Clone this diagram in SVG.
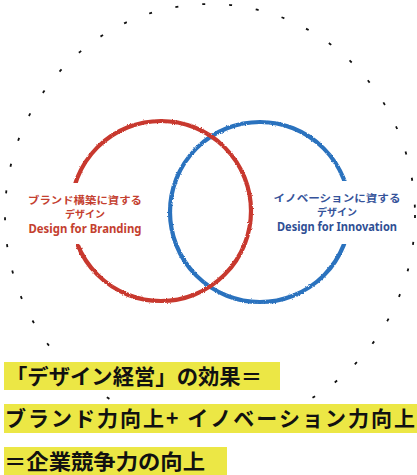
<svg xmlns="http://www.w3.org/2000/svg" width="417" height="475" viewBox="0 0 417 475">
  <defs>
    <!-- rough, chalk-like edge for the two rings -->
    <filter id="rough" x="-10%" y="-10%" width="120%" height="120%">
      <feTurbulence type="fractalNoise" baseFrequency="0.9" numOctaves="2" seed="3" result="n"/>
      <feDisplacementMap in="SourceGraphic" in2="n" scale="2.4" xChannelSelector="R" yChannelSelector="G"/>
    </filter>
  </defs>
  <style>
    .ring { fill: none; stroke-width: 4.2; filter: url(#rough); }
    .lbl { font-family: "Noto Sans CJK JP", "Noto Sans", sans-serif; font-weight: 700; text-anchor: middle; font-size: 10px; }
    .en { font-family: "Noto Sans", "Liberation Sans", sans-serif; font-weight: 700; text-anchor: middle; font-size: 11.5px; }
    .band { fill: #ece745; }
    .big { font-family: "Noto Sans CJK JP", sans-serif; font-weight: 700; font-size: 21px; fill: #111; }
  </style>

  <rect width="417" height="475" fill="#fff"/>

  <!-- outer dashed boundary -->
  <g id="outer">
    <ellipse cx="210" cy="215" rx="205" ry="211" fill="none" stroke="#111" stroke-width="1.8" stroke-dasharray="3 24"/>
  </g>

  <g id="connectors">
    <circle cx="260" cy="212" r="90" class="ring" stroke="#2b72be"/>
    <circle cx="161" cy="211" r="90" class="ring" stroke="#c8392e"/>
  </g>

  <g id="branding">
    <rect x="24" y="183" width="122" height="61" fill="#fff"/>
    <text class="lbl" x="85" y="204" fill="#c4402f" textLength="114" lengthAdjust="spacingAndGlyphs">ブランド構築に資する</text>
    <text class="lbl" x="85" y="218" fill="#c4402f" textLength="40" lengthAdjust="spacingAndGlyphs">デザイン</text>
    <text class="en" x="85" y="233" fill="#c4402f" textLength="113" lengthAdjust="spacingAndGlyphs">Design for Branding</text>
  </g>

  <g id="innovation">
    <rect x="270" y="181" width="133" height="63" fill="#fff"/>
    <text class="lbl" x="337" y="202" fill="#35539a" textLength="127" lengthAdjust="spacingAndGlyphs">イノベーションに資する</text>
    <text class="lbl" x="337" y="216" fill="#35539a" textLength="40" lengthAdjust="spacingAndGlyphs">デザイン</text>
    <text class="en" x="337" y="231" fill="#2f4f94" textLength="120" lengthAdjust="spacingAndGlyphs">Design for Innovation</text>
  </g>

  <g id="effect">
    <rect class="band" x="4" y="362" width="276" height="28"/>
    <text class="big" x="6" y="384" textLength="256" lengthAdjust="spacingAndGlyphs">「デザイン経営」の効果＝</text>
  </g>
  <g id="sum">
    <rect class="band" x="4" y="404" width="413" height="29"/>
    <text class="big" x="5" y="426" textLength="410" lengthAdjust="spacing">ブランド力向上+ イノベーション力向上</text>
  </g>
  <g id="result">
    <rect class="band" x="4" y="447" width="223" height="28"/>
    <text class="big" x="4" y="469" textLength="201" lengthAdjust="spacingAndGlyphs">＝企業競争力の向上</text>
  </g>
</svg>
